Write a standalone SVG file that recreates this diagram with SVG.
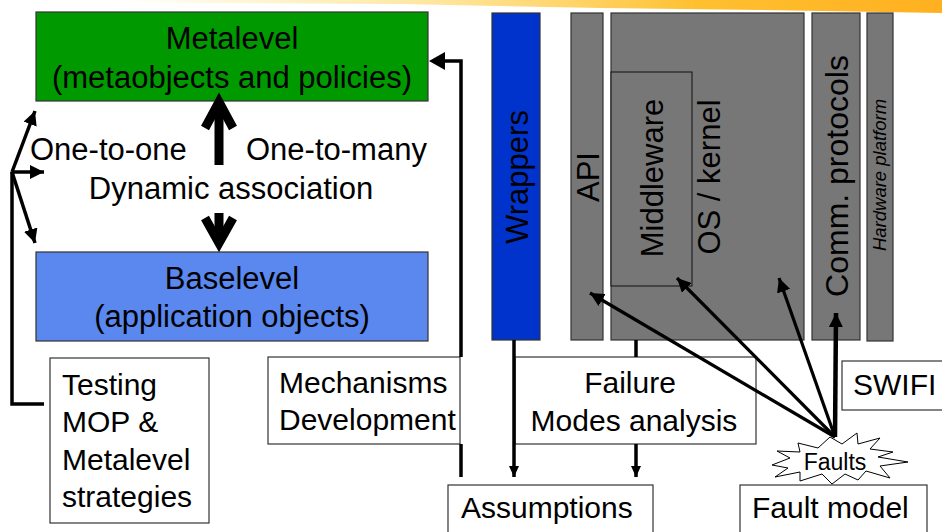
<svg xmlns="http://www.w3.org/2000/svg" width="942" height="532" viewBox="0 0 942 532">
<defs>
<linearGradient id="brush" x1="0" y1="0" x2="1" y2="0">
<stop offset="0" stop-color="#ffe070" stop-opacity="0"/>
<stop offset="0.3" stop-color="#ffe080" stop-opacity="0.6"/>
<stop offset="0.7" stop-color="#ffc030"/>
<stop offset="1" stop-color="#ffb020"/>
</linearGradient>
<marker id="ah" markerUnits="userSpaceOnUse" markerWidth="16" markerHeight="14" refX="14" refY="7" orient="auto">
<path d="M0,0 L14,7 L0,14 Z" fill="#000"/>
</marker>
<marker id="ahs" markerUnits="userSpaceOnUse" markerWidth="12" markerHeight="10" refX="11" refY="5" orient="auto">
<path d="M0,0 L11,5 L0,10 Z" fill="#000"/>
</marker>
</defs>
<style>
text{font-family:"Liberation Sans",Arial,sans-serif;fill:#000}
.t{font-size:30px}
.box{fill:#fff;stroke:#333;stroke-width:1.2}
.gray{fill:#777;stroke:#333;stroke-width:1.2}
.c{fill:none;stroke:#000;stroke-width:3.5}
</style>
<rect width="942" height="532" fill="#fff"/>
<path d="M120,0 L942,0 L942,13 L760,10 L600,8 L400,4 L200,3 L120,2 Z" fill="url(#brush)"/>

<g id="metalevel">
<rect x="36" y="12" width="392" height="89" fill="#009900" stroke="#333" stroke-width="1.2"/>
<text class="t" style="font-size:31px" x="232" y="49" text-anchor="middle">Metalevel</text>
<text class="t" style="font-size:31px" x="232" y="88" text-anchor="middle">(metaobjects and policies)</text>
</g>

<g id="association-labels">
<text class="t" style="font-size:31px" x="30" y="160">One-to-one</text>
<text class="t" style="font-size:31px" x="246" y="160">One-to-many</text>
<text class="t" style="font-size:31px" x="231" y="199" text-anchor="middle">Dynamic association</text>
</g>

<g id="baselevel">
<rect x="36" y="252" width="392" height="89" fill="#5a88ef" stroke="#333" stroke-width="1.2"/>
<text class="t" style="font-size:31px" x="232" y="289" text-anchor="middle">Baselevel</text>
<text class="t" style="font-size:31px" x="232" y="327" text-anchor="middle">(application objects)</text>
</g>

<g id="wrappers">
<rect x="492" y="13" width="48" height="327" fill="#0033cc" stroke="#333" stroke-width="1.2"/>
<text class="t" style="font-size:31px" transform="translate(528,177) rotate(-90)" text-anchor="middle">Wrappers</text>
</g>

<g id="api">
<rect class="gray" x="571" y="13" width="32" height="327"/>
<text class="t" style="font-size:31px" transform="translate(599,177) rotate(-90)" text-anchor="middle">API</text>
</g>

<g id="os-kernel">
<rect class="gray" x="611" y="13" width="193" height="327"/>
<text class="t" style="font-size:31px" transform="translate(720,177) rotate(-90)" text-anchor="middle">OS / kernel</text>
</g>

<g id="middleware">
<rect x="611" y="72" width="81" height="214" fill="#777" stroke="#111" stroke-width="1"/>
<text class="t" style="font-size:31px" transform="translate(663,178) rotate(-90)" text-anchor="middle">Middleware</text>
</g>

<g id="comm-protocols">
<rect class="gray" x="812" y="13" width="48" height="327"/>
<text class="t" style="font-size:32px" transform="translate(848,176) rotate(-90)" text-anchor="middle">Comm. protocols</text>
</g>

<g id="hardware-platform">
<rect class="gray" x="867" y="13" width="26" height="328"/>
<text style="font-size:18.5px;font-style:italic" transform="translate(886,175) rotate(-90)" text-anchor="middle">Hardware platform</text>
</g>

<g id="testing">
<rect class="box" x="50" y="358" width="159" height="165"/>
<text class="t" x="62" y="395">Testing</text>
<text class="t" x="62" y="432">MOP &amp;</text>
<text class="t" x="62" y="470">Metalevel</text>
<text class="t" x="62" y="507">strategies</text>
</g>

<g id="mechanisms">
<rect class="box" x="268" y="357" width="192" height="87"/>
<text class="t" x="279" y="393">Mechanisms</text>
<text class="t" x="279" y="430">Development</text>
</g>

<g id="failure-modes">
<rect class="box" x="515" y="357" width="241" height="87"/>
<text class="t" x="630" y="393" text-anchor="middle">Failure</text>
<text class="t" x="634" y="431" text-anchor="middle">Modes analysis</text>
</g>

<g id="swifi">
<rect class="box" x="842" y="361" width="105" height="49"/>
<text class="t" x="853" y="395">SWIFI</text>
</g>

<g id="assumptions">
<rect class="box" x="448" y="485" width="205" height="60"/>
<text class="t" x="461" y="518">Assumptions</text>
</g>

<g id="fault-model">
<rect class="box" x="740" y="485" width="187" height="60"/>
<text class="t" x="752" y="518">Fault model</text>
</g>

<g id="connectors">
<polyline class="c" points="461,357 461,61 444,61"/>
<line class="c" x1="461" y1="444" x2="461" y2="477"/>
<path d="M429,61 L445,52 L445,70 Z" fill="#000"/>
<polyline class="c" points="44,404 12,404 12,172"/>
<line class="c" x1="12" y1="172" x2="35" y2="111" marker-end="url(#ah)" stroke-width="3"/>
<line class="c" x1="12" y1="172" x2="44" y2="172" marker-end="url(#ah)" stroke-width="3"/>
<line class="c" x1="12" y1="172" x2="35" y2="243" marker-end="url(#ah)" stroke-width="3"/>
<line x1="219" y1="165" x2="219" y2="104" stroke="#000" stroke-width="9"/>
<polyline points="205,128 219,102 233,128" fill="none" stroke="#000" stroke-width="9" stroke-linejoin="miter"/>
<line x1="219" y1="213" x2="219" y2="240" stroke="#000" stroke-width="9"/>
<polyline points="205,218 219,243 233,218" fill="none" stroke="#000" stroke-width="9" stroke-linejoin="miter"/>
<line x1="514" y1="340" x2="514" y2="477" stroke="#000" stroke-width="3.5" marker-end="url(#ahs)"/>
<line x1="636" y1="340" x2="636" y2="357" stroke="#000" stroke-width="3.5"/>
<line x1="636" y1="444" x2="636" y2="477" stroke="#000" stroke-width="3.5" marker-end="url(#ahs)"/>
<line x1="835" y1="437" x2="590" y2="293" stroke="#000" stroke-width="3.2" marker-end="url(#ah)"/>
<line x1="835" y1="437" x2="677" y2="278" stroke="#000" stroke-width="3.2" marker-end="url(#ah)"/>
<line x1="835" y1="437" x2="779" y2="278" stroke="#000" stroke-width="3.2" marker-end="url(#ah)"/>
<line x1="835" y1="437" x2="836" y2="313" stroke="#000" stroke-width="4.5" marker-end="url(#ah)"/>
</g>

<g id="faults">
<polygon points="772,465 790,458 777,451 800,452 798,443 818,448 830,437 842,444 857,433 858,444 880,438 870,449 893,452 878,457 908,462 880,466 890,478 866,471 858,480 845,474 832,484 822,474 800,481 800,472 775,477 788,468" fill="#fff" stroke="#000" stroke-width="1"/>
<text x="835" y="470" text-anchor="middle" style="font-size:23px">Faults</text>
</g>
</svg>
